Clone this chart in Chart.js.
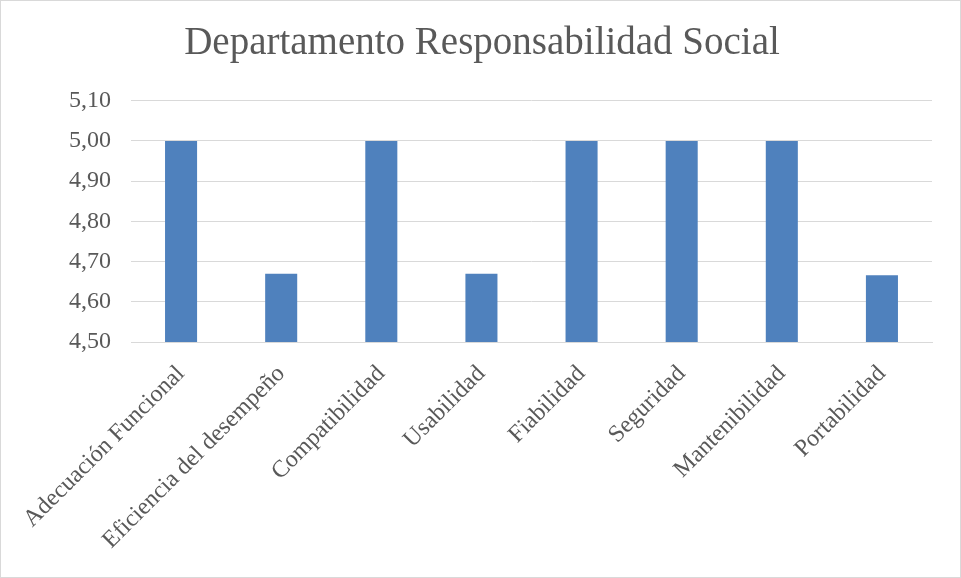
<!DOCTYPE html>
<html>
<head>
<meta charset="utf-8">
<script src="https://cdn.jsdelivr.net/npm/chart.js@4"></script>
<style>
  html, body { margin: 0; padding: 0; background: #fff; }
  #wrap { position: relative; width: 961px; height: 578px; box-sizing: border-box; border: 1px solid #d9d9d9; }
</style>
</head>
<body>
<div id="wrap"><canvas id="chart"></canvas></div>
<script>
// data
const categories = ["Adecuación Funcional", "Eficiencia del desempeño", "Compatibilidad", "Usabilidad",
  "Fiabilidad", "Seguridad", "Mantenibilidad", "Portabilidad"];
const scores = [5.00, 4.67, 5.00, 4.67, 5.00, 5.00, 5.00, 4.666];
const yMin = 4.5;
const yMax = 5.1;
const yStep = 0.1;

const fontFamily = "'Liberation Serif', 'DejaVu Serif', serif";
const textColor = "#595959";

const ctx = document.getElementById("chart").getContext("2d");
const chart = new Chart(ctx, {
  type: "bar",
  data: {
    labels: categories,
    datasets: [
      {
        label: "Promedio",
        data: scores,
        backgroundColor: "#4f81bd",
        borderWidth: 0,
        barPercentage: 0.64,
        categoryPercentage: 0.5,
      },
    ],
  },
  options: {
    responsive: true,
    maintainAspectRatio: false,
    animation: false,
    layout: { padding: { left: 31, right: 28, top: 0, bottom: 0 } },
    plugins: {
      legend: { display: false },
      tooltip: { enabled: false },
      title: {
        display: true,
        text: "Departamento Responsabilidad Social",
        color: textColor,
        font: { family: fontFamily, size: 39, weight: "normal" },
        padding: { top: 19, bottom: 34 },
      },
    },
    scales: {
      x: {
        grid: { display: false, drawTicks: false },
        border: { display: true, color: "#d9d9d9", width: 1 },
        ticks: {
          color: textColor,
          font: { family: fontFamily, size: 24 },
          minRotation: 45,
          maxRotation: 45,
          padding: 18,
        },
        afterFit: (axis) => { axis.height = 235; },
      },
      y: {
        min: yMin,
        max: yMax,
        grid: { color: "#d9d9d9", lineWidth: 1, drawTicks: false },
        border: { display: false },
        ticks: {
          stepSize: yStep,
          color: textColor,
          font: { family: fontFamily, size: 24 },
          padding: 20,
          callback: (v) => v.toFixed(2).replace(".", ","),
        },
        afterFit: (axis) => { axis.width = 99; },
      },
    },
  },
});
</script>
</body>
</html>
